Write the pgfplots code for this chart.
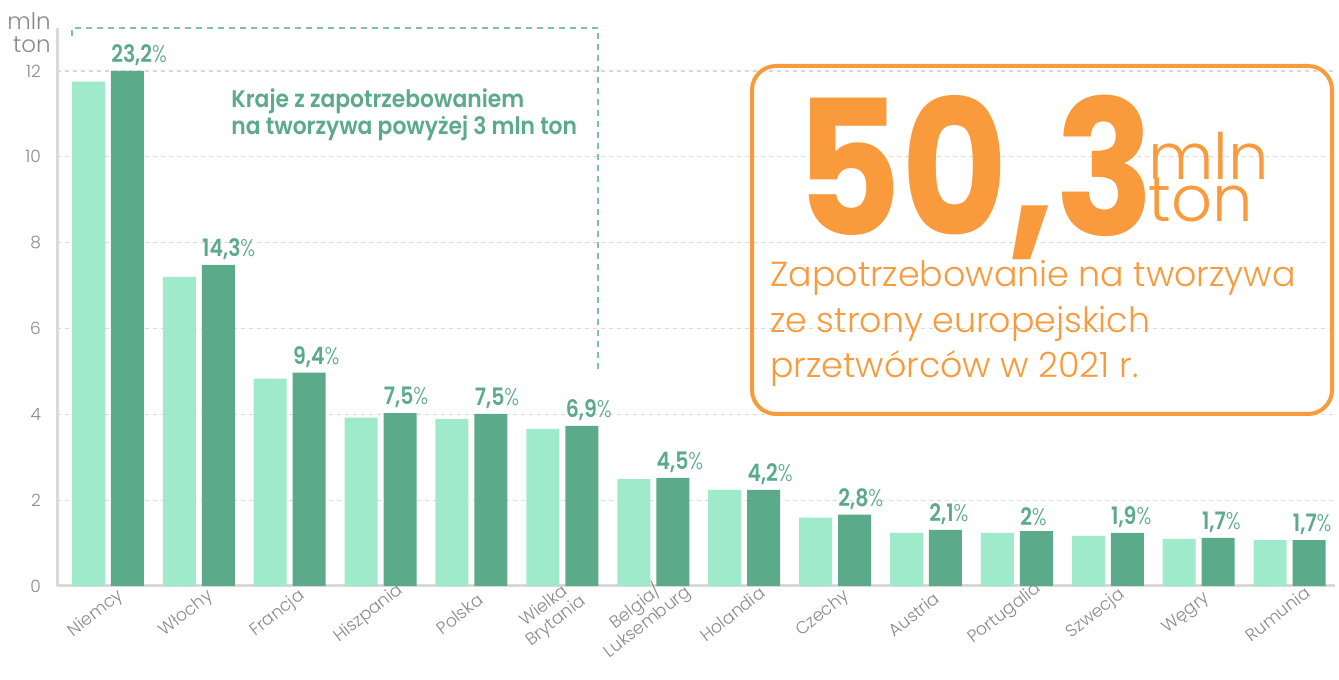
\documentclass[border=0pt]{standalone}
\usepackage{pgfplots}
\pgfplotsset{compat=1.18}
\usepackage{fontspec}
\setmainfont{Poppins}
\newfontfamily\plight{Poppins}[UprightFont=* Light]
\newfontfamily\pbold{Poppins}[UprightFont=* SemiBold]
\newfontfamily\pxbold{Poppins}[UprightFont=* Bold]
\definecolor{lightg}{HTML}{9EEACB}
\definecolor{darkg}{HTML}{5BAA8A}
\definecolor{txtg}{HTML}{5BAA8A}
\definecolor{boxg}{HTML}{7CC4A4}
\definecolor{orng}{HTML}{F99A3C}
\definecolor{axgray}{HTML}{D9D9D9}
\definecolor{tickgray}{HTML}{8A8A8A}
\newcommand\lab[1]{\scalebox{0.85}[1]{\pbold #1{\plight\%}}}
\begin{document}
\begin{tikzpicture}
\path[use as bounding box] (0,0) rectangle (669.5pt,340pt);
\begin{axis}[
  at={(28.5pt,47pt)}, anchor=south west,
  scale only axis, width=639pt, height=279pt,
  xmin=-0.56, xmax=13.5, ymin=0, ymax=13,
  axis x line=bottom, axis y line=left,
  axis line style={axgray, line width=1.5pt, -},
  ybar, bar width=16.5pt,
  xtick={0,...,13}, major tick length=0pt,
  xticklabels={Niemcy,Włochy,Francja,Hiszpania,Polska,{Wielka\\Brytania},{Belgia/\\Luksemburg},Holandia,Czechy,Austria,Portugalia,Szwecja,Węgry,Rumunia},
  xticklabel style={xshift=-6pt, yshift=-14pt, rotate=38, anchor=center, align=center, font=\plight\fontsize{8.6pt}{9.6pt}\selectfont, text=tickgray},
  ytick={0,2,...,12},
  yticklabel style={font=\plight\fontsize{8.5pt}{9pt}\selectfont, text=tickgray, xshift=-4.5pt},
  /pgf/number format/assume math mode=true,
  ymajorgrids, grid style={axgray, line width=0.6pt, dash pattern=on 2pt off 2pt},
  clip=false,
]
\addplot[fill=lightg, draw=none, bar shift=-9.75pt] coordinates {
 (0,11.75) (1,7.20) (2,4.83) (3,3.92) (4,3.89) (5,3.66) (6,2.49) (7,2.24) (8,1.59) (9,1.24) (10,1.24) (11,1.17) (12,1.10) (13,1.07)};
\addplot[fill=darkg, draw=none, bar shift=9.75pt,
  point meta=explicit symbolic,
  nodes near coords={\lab{\pgfplotspointmeta}},
  every node near coord/.append style={anchor=south west, xshift=-8.25pt, yshift=2.5pt, inner sep=0pt, text=txtg, font=\fontsize{12pt}{14pt}\selectfont}]
 table[meta=lab] {
x y lab
0 12.00 23,2
1 7.48 14,3
2 4.97 9,4
3 4.03 7,5
4 4.01 7,5
5 3.73 6,9
6 2.52 4,5
7 2.24 4,2
8 1.66 2,8
9 1.31 2,1
10 1.28 2
11 1.24 1,9
12 1.12 1,7
13 1.07 1,7
};
\end{axis}
% y label
\node[anchor=north east, align=right, inner sep=0pt, text=tickgray, font=\plight\fontsize{11.5pt}{11.5pt}\selectfont] at (25.5pt,334pt) {mln\\ton};
% dashed green box
\draw[boxg, line width=0.6pt, dash pattern=on 3pt off 2.5pt] (36pt,322pt) -- (36pt,326pt) -- (299pt,326pt) -- (299pt,155pt);
\node[anchor=north west, align=left, inner sep=0pt, text=txtg, font=\pbold\fontsize{12pt}{13.5pt}\selectfont] at (115.5pt,296pt) {\scalebox{0.91}[1]{Kraje z zapotrzebowaniem}\\\scalebox{0.91}[1]{na tworzywa powyżej 3 mln ton}};
% orange box
\draw[orng, line width=2pt, rounded corners=12pt] (376pt,133pt) rectangle (666pt,307pt);
\node[anchor=base west, inner sep=0pt, text=orng, font=\pxbold\fontsize{94pt}{94pt}\selectfont] at (397.5pt,222pt) {\scalebox{0.87}[1]{50,3}};
\node[anchor=base west, inner sep=0pt, text=orng, font=\plight\fontsize{32pt}{32pt}\selectfont] at (574pt,250pt) {mln};
\node[anchor=base west, inner sep=0pt, text=orng, font=\plight\fontsize{32pt}{32pt}\selectfont] at (574pt,229pt) {ton};
\node[anchor=base west, inner sep=0pt, text=orng, font=\plight\fontsize{17.4pt}{17.4pt}\selectfont] at (385pt,196.5pt) {Zapotrzebowanie na tworzywa};
\node[anchor=base west, inner sep=0pt, text=orng, font=\plight\fontsize{17.4pt}{17.4pt}\selectfont] at (385pt,173.5pt) {ze strony europejskich};
\node[anchor=base west, inner sep=0pt, text=orng, font=\plight\fontsize{17.4pt}{17.4pt}\selectfont] at (385pt,151pt) {przetwórców w 2021 r.};
\end{tikzpicture}
\end{document}
